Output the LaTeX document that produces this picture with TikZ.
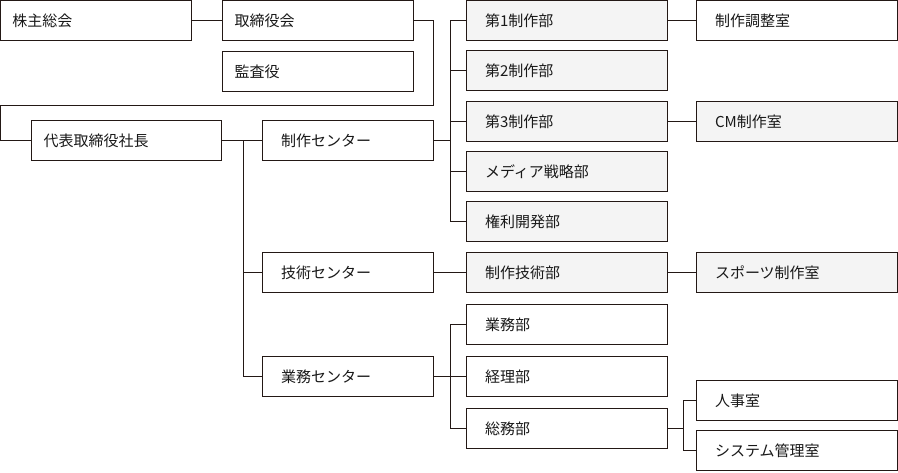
\documentclass[tikz,border=0pt]{standalone}
\usepackage{fontspec}
\newfontfamily\jp{Noto Sans CJK JP}
\definecolor{ink}{HTML}{231815}
\definecolor{shade}{HTML}{F4F4F4}
\begin{document}
\begin{tikzpicture}[x=1pt,y=-1pt,
  base/.style={draw=ink, fill=white, line width=1.25pt, minimum height=40pt, inner ysep=0pt,
     align=left, font=\jp\fontsize{15}{18}\selectfont, text=black!90},
  boxa/.style={base, inner xsep=12pt},
  boxb/.style={base, inner xsep=18.5pt},
  gray/.style={fill=shade},
  conn/.style={draw=ink, line width=1.25pt}]
\useasboundingbox (0,0) rectangle (898,472);
% left column
\node[boxa, text width=167pt] (kabu) at (96,20.5) {株主総会};
\node[boxa, text width=167pt] (tori) at (318,20.5) {取締役会};
\node[boxa, text width=167pt] (kansa) at (318,71.5) {監査役};
\node[boxa, text width=166pt] (daihyo) at (126.5,140.5) {代表取締役社長};
% centers
\node[boxb, text width=134pt] (seisakuC) at (348,140.5) {制作センター};
\node[boxb, text width=134pt] (gijutsuC) at (348,272.5) {技術センター};
\node[boxb, text width=134pt] (gyomuC) at (348,376.5) {業務センター};
% departments
\node[boxb, gray, text width=164pt] (d1) at (567,20.5) {第1制作部};
\node[boxb, gray, text width=164pt] (d2) at (567,70.5) {第2制作部};
\node[boxb, gray, text width=164pt] (d3) at (567,121.5) {第3制作部};
\node[boxb, gray, text width=164pt] (media) at (567,171.5) {メディア戦略部};
\node[boxb, gray, text width=164pt] (kenri) at (567,221.5) {権利開発部};
\node[boxb, gray, text width=164pt] (gitech) at (567,272.5) {制作技術部};
\node[boxb, text width=164pt] (gyomuB) at (567,324.5) {業務部};
\node[boxb, text width=164pt] (keiri) at (567,376.5) {経理部};
\node[boxb, text width=164pt] (somu) at (567,428.5) {総務部};
% rooms
\node[boxb, text width=164pt] (chosei) at (797,20.5) {制作調整室};
\node[boxb, gray, text width=164pt] (cm) at (797,121.5) {CM制作室};
\node[boxb, gray, text width=164pt] (sports) at (797,272.5) {スポーツ制作室};
\node[boxb, text width=164pt] (jinji) at (797,400.5) {人事室};
\node[boxb, text width=164pt] (system) at (797,450.5) {システム管理室};
% junction coordinates
\coordinate (c1) at (433.5,105.5);
\coordinate (c2) at (0.8,105.5);
\coordinate (v1) at (243.5,140.5);
\coordinate (v2) at (450.5,140.5);
\coordinate (v3) at (450.5,376.5);
\coordinate (v4) at (683.5,428.5);
% connectors
\draw[conn] (kabu.east) -- (tori.west);
\draw[conn] (tori.east) -| (c1) -- (c2) |- (daihyo.west);
\draw[conn] (daihyo.east) -- (seisakuC.west);
\draw[conn] (v1) |- (gijutsuC.west);
\draw[conn] (v1) |- (gyomuC.west);
\draw[conn] (seisakuC.east) -- (v2);
\draw[conn] (d1.west) -| (v2) |- (kenri.west);
\draw[conn] (d2.west -| v2) -- (d2.west);
\draw[conn] (d3.west -| v2) -- (d3.west);
\draw[conn] (media.west -| v2) -- (media.west);
\draw[conn] (gijutsuC.east) -- (gitech.west);
\draw[conn] (gyomuC.east) -- (v3);
\draw[conn] (gyomuB.west) -| (v3) |- (somu.west);
\draw[conn] (keiri.west -| v3) -- (keiri.west);
\draw[conn] (d1.east) -- (chosei.west);
\draw[conn] (d3.east) -- (cm.west);
\draw[conn] (gitech.east) -- (sports.west);
\draw[conn] (somu.east) -- (v4);
\draw[conn] (jinji.west) -| (v4) |- (system.west);
\end{tikzpicture}
\end{document}
